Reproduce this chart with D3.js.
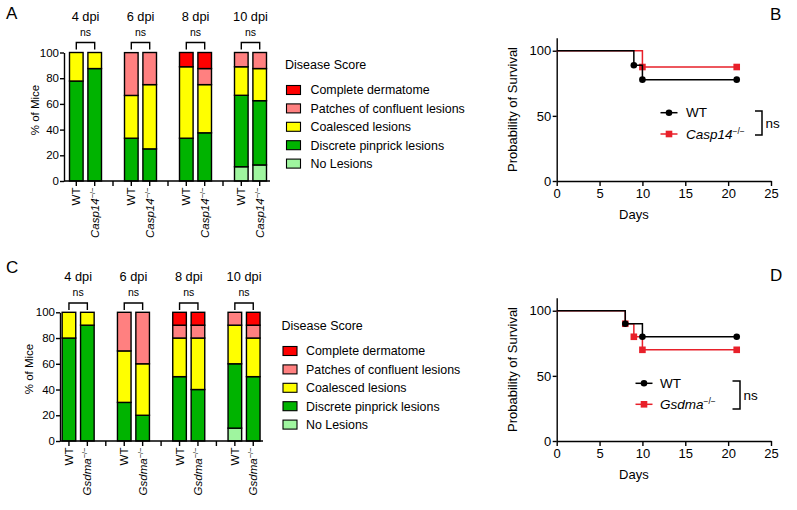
<!DOCTYPE html>
<html><head><meta charset="utf-8">
<script src="https://cdn.jsdelivr.net/npm/d3@7"></script>
<style>
body{margin:0;background:#fff;}
svg{font-family:"Liberation Sans",Arial,sans-serif;display:block;}
</style></head><body>
<svg id="c" width="797" height="510"></svg>
<script>
// ---------- DATA ----------
const scoreNames = ["No Lesions","Discrete pinprick lesions","Coalesced lesions","Patches of confluent lesions","Complete dermatome"];
const scoreColors = ["#9ff59f","#00b300","#ffff00","#ff8080","#ff0000"];
const dpiLabels = ["4 dpi","6 dpi","8 dpi","10 dpi"];
const sigLabels = ["ns","ns","ns","ns"];
const barTicks = [0,20,40,60,80,100];
// bar order: 4dpi WT, 4dpi KO, 6dpi WT, 6dpi KO, 8dpi WT, 8dpi KO, 10dpi WT, 10dpi KO
const aNoLesions = [0,0,0,0,0,0,11.1,12.5];
const aDiscrete  = [77.8,87.5,33.3,25,33.3,37.5,55.6,50];
const aCoalesced = [22.2,12.5,33.3,50,55.6,37.5,22.2,25];
const aPatches   = [0,0,33.3,25,0,12.5,11.1,12.5];
const aComplete  = [0,0,0,0,11.1,12.5,0,0];
const cNoLesions = [0,0,0,0,0,0,10,0];
const cDiscrete  = [80,90,30,20,50,40,50,50];
const cCoalesced = [20,10,40,40,30,40,30,30];
const cPatches   = [0,0,30,40,10,10,10,10];
const cComplete  = [0,0,0,0,10,10,0,10];
// survival
const survXTicks = [0,5,10,15,20,25];
const survYTicks = [0,50,100];
const bWTDays = [0,9,10,21],     bWTPct = [100,88.9,77.8,77.8];
const bKODays = [0,10,21],       bKOPct = [100,87.5,87.5];
const dWTDays = [0,8,10,21],     dWTPct = [100,90,80,80];
const dKODays = [0,8,9,10,21],   dKOPct = [100,90,80,70,70];

// ---------- DRAW ----------
const svg = d3.select("#c");
const LW = 1.4;

function genoLabel(sel, name, size, supSize, supShift){
  if(name === "WT"){ sel.text("WT"); return; }
  sel.append("tspan").attr("font-style","italic").text(name);
  sel.append("tspan").attr("font-size",supSize).attr("dy",-supShift).text("\u2212/\u2212");
}

function barPanel(o){
  const g = svg.append("g");
  const y = d3.scaleLinear([0,100],[o.y0,o.y100]);
  const xg = d3.scaleBand(dpiLabels,[o.gx0,o.gx1]);
  const xi = d3.scalePoint(["WT","KO"],[-o.half,o.half]);
  const series = [o.s0,o.s1,o.s2,o.s3,o.s4];
  const n = o.s0.length;
  const bars = d3.range(n).map(i=>{
    let acc=0; const segs=[];
    series.forEach((s,k)=>{ if(s[i]>0){ segs.push({k,a:acc,b:acc+s[i]}); } acc+=s[i]; });
    return {i, grp:dpiLabels[Math.floor(i/2)], geno: i%2===0?"WT":"KO", segs};
  });
  const cx = d=> xg(d.grp)+xg.bandwidth()/2 + xi(d.geno);
  bars.forEach(d=>{
    d.segs.forEach(s=>{
      g.append("rect").attr("x",cx(d)-o.bw/2).attr("width",o.bw)
        .attr("y",y(s.b)).attr("height",y(s.a)-y(s.b))
        .attr("fill",scoreColors[s.k]).attr("stroke","#000").attr("stroke-width",LW);
    });
  });
  // y axis
  const ya = g.append("g").attr("transform",`translate(${o.ax},0)`)
    .call(d3.axisLeft(y).tickValues(barTicks).tickSize(4).tickSizeOuter(0).tickPadding(1));
  ya.select(".domain").attr("stroke-width",LW);
  ya.selectAll(".tick line").attr("stroke-width",LW);
  ya.selectAll("text").attr("font-size",11.5).attr("font-family","Liberation Sans, Arial");
  g.append("text").attr("transform",`translate(${o.ylx},${o.yly}) rotate(-90)`)
    .attr("text-anchor","middle").attr("font-size",11.5).text("% of Mice");
  // x axis
  g.append("line").attr("x1",o.ax).attr("x2",o.axEnd).attr("y1",o.y0).attr("y2",o.y0)
    .attr("stroke","#000").attr("stroke-width",LW);
  const sepTicks = dpiLabels.slice(1).map(l=>xg(l));
  const tickXs = bars.map(cx).concat(sepTicks);
  tickXs.forEach(x=> g.append("line").attr("x1",x).attr("x2",x).attr("y1",o.y0).attr("y2",o.y0+5)
    .attr("stroke","#000").attr("stroke-width",LW));
  bars.forEach(d=>{
    const t = g.append("text").attr("transform",`translate(${cx(d)},${o.y0+6.5}) rotate(-90)`)
      .attr("text-anchor","end").attr("dy","0.35em").attr("font-size",11.5);
    genoLabel(t, d.geno==="WT"?"WT":o.ko, 11.5, 7.5, 4);
  });
  // group headers, brackets
  dpiLabels.forEach((l,j)=>{
    const c = xg(l)+xg.bandwidth()/2;
    g.append("text").attr("x",c).attr("y",o.hy).attr("text-anchor","middle").attr("font-size",12.8).text(l);
    g.append("text").attr("x",c).attr("y",o.hy+15).attr("text-anchor","middle").attr("font-size",10.5).text(sigLabels[j]);
    const x1 = c+xi("WT"), x2 = c+xi("KO");
    g.append("path").attr("d",`M${x1},${o.hy+29}V${o.hy+22}H${x2}V${o.hy+29}`)
      .attr("fill","none").attr("stroke","#000").attr("stroke-width",LW);
  });
  // legend
  g.append("text").attr("x",o.lx).attr("y",o.ly).attr("font-size",12.5).text("Disease Score");
  [4,3,2,1,0].forEach((k,r)=>{
    const yy = o.ly+21+r*18.4;
    g.append("rect").attr("x",o.lx+1.5).attr("y",yy-4.5).attr("width",14).attr("height",9)
      .attr("fill",scoreColors[k]).attr("stroke","#000").attr("stroke-width",1.1);
    g.append("text").attr("x",o.ltx).attr("y",yy+4.3).attr("font-size",12.4).text(scoreNames[k]);
  });
  // letter
  svg.append("text").attr("x",o.letX).attr("y",o.letY).attr("font-size",17).text(o.letter);
}

function survPanel(o){
  const g = svg.append("g");
  const x = d3.scaleLinear([0,25],[o.x0,o.x1]);
  const y = d3.scaleLinear([0,110],[o.y0,o.y0-143.3]);
  const xa = g.append("g").attr("transform",`translate(0,${o.y0})`)
    .call(d3.axisBottom(x).tickValues(survXTicks).tickSize(5).tickSizeOuter(0).tickPadding(3));
  const ya = g.append("g").attr("transform",`translate(${o.x0},0)`)
    .call(d3.axisLeft(y).tickValues(survYTicks).tickSize(4).tickSizeOuter(0).tickPadding(1.5));
  [xa,ya].forEach(a=>{
    a.select(".domain").attr("stroke-width",LW);
    a.selectAll(".tick line").attr("stroke-width",LW);
    a.selectAll("text").attr("font-size",13).attr("font-family","Liberation Sans, Arial");
  });
  g.append("text").attr("x",(o.x0+o.x1)/2-30).attr("y",o.y0+38).attr("text-anchor","middle").attr("font-size",13).text("Days");
  g.append("text").attr("transform",`translate(${o.x0-39.5},${o.y0-71.5}) rotate(-90)`)
    .attr("text-anchor","middle").attr("font-size",13).text("Probability of Survival");
  const line = d3.line().x(d=>x(d[0])).y(d=>y(d[1])).curve(d3.curveStepAfter);
  const red = "#e8202a";
  const ko = o.koDays.map((d,i)=>[d,o.koPct[i]]);
  const wt = o.wtDays.map((d,i)=>[d,o.wtPct[i]]);
  g.append("path").attr("d",line(ko)).attr("fill","none").attr("stroke",red).attr("stroke-width",1.5);
  ko.slice(1).forEach(p=> g.append("rect").attr("x",x(p[0])-3.3).attr("y",y(p[1])-3.3).attr("width",6.6).attr("height",6.6).attr("fill",red));
  g.append("path").attr("d",line(wt)).attr("fill","none").attr("stroke","#000").attr("stroke-width",1.5);
  wt.slice(1).forEach(p=> g.append("circle").attr("cx",x(p[0])).attr("cy",y(p[1])).attr("r",3.3).attr("fill","#000"));
  // legend
  const L = o.leg;
  g.append("line").attr("x1",L.x).attr("x2",L.x+17).attr("y1",L.y1).attr("y2",L.y1).attr("stroke","#000").attr("stroke-width",1.5);
  g.append("circle").attr("cx",L.x+8.5).attr("cy",L.y1).attr("r",3.3).attr("fill","#000");
  g.append("line").attr("x1",L.x).attr("x2",L.x+17).attr("y1",L.y2).attr("y2",L.y2).attr("stroke",red).attr("stroke-width",1.5);
  g.append("rect").attr("x",L.x+8.5-3.3).attr("y",L.y2-3.3).attr("width",6.6).attr("height",6.6).attr("fill",red);
  g.append("text").attr("x",L.tx).attr("y",L.y1+4.7).attr("font-size",13.5).text("WT");
  const t = g.append("text").attr("x",L.tx).attr("y",L.y2+4.7).attr("font-size",13.5);
  genoLabel(t,o.ko,13.5,8.5,5);
  g.append("path").attr("d",`M${L.bx0},${L.by0}H${L.bx1}V${L.by1}H${L.bx0}`)
    .attr("fill","none").attr("stroke","#000").attr("stroke-width",1.5);
  g.append("text").attr("x",L.bx1+3.5).attr("y",(L.by0+L.by1)/2+4.5).attr("font-size",13.5).text("ns");
  svg.append("text").attr("x",o.letX).attr("y",o.letY).attr("font-size",17).text(o.letter);
}

barPanel({letter:"A",letX:6,letY:19,ko:"Casp14",
  y0:181,y100:52.5,gx0:58,gx1:278,half:9.2,bw:13.6,ax:64,axEnd:270,
  ylx:39,yly:110,hy:20.5,lx:285,ly:69,ltx:310.5,
  s0:aNoLesions,s1:aDiscrete,s2:aCoalesced,s3:aPatches,s4:aComplete});
barPanel({letter:"C",letX:6,letY:273,ko:"Gsdma",
  y0:441,y100:312.3,gx0:50.5,gx1:271.7,half:9.2,bw:13.6,ax:60,axEnd:263,
  ylx:33,yly:369,hy:281,lx:281.5,ly:330,ltx:306,
  s0:cNoLesions,s1:cDiscrete,s2:cCoalesced,s3:cPatches,s4:cComplete});
survPanel({letter:"B",letX:770,letY:20,ko:"Casp14",x0:556.7,x1:771,y0:181,
  wtDays:bWTDays,wtPct:bWTPct,koDays:bKODays,koPct:bKOPct,
  leg:{x:660.5,tx:686,y1:112.7,y2:134,bx0:755,bx1:762,by0:111,by1:135}});
survPanel({letter:"D",letX:770,letY:281,ko:"Gsdma",x0:556.7,x1:771,y0:441,
  wtDays:dWTDays,wtPct:dWTPct,koDays:dKODays,koPct:dKOPct,
  leg:{x:635.5,tx:660,y1:383.3,y2:404.3,bx0:732.5,bx1:740,by0:381,by1:409}});
</script>
</body></html>
